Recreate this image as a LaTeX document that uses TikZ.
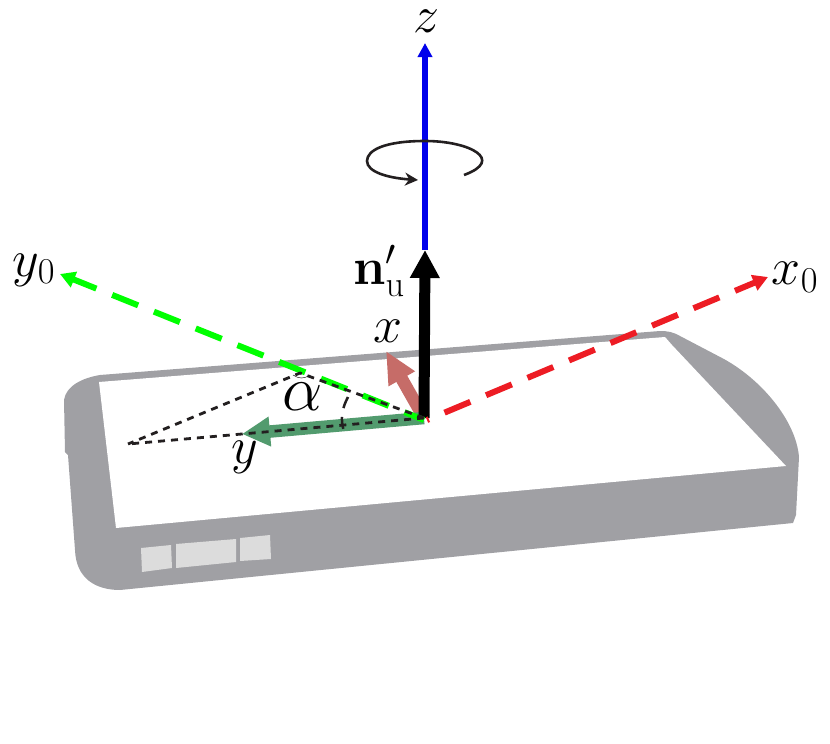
\documentclass[tikz,border=0pt]{standalone}
\usepackage{fix-cm}
\usepackage{amsmath}
\usetikzlibrary{arrows.meta}
\definecolor{phonegray}{RGB}{160,160,164}
\definecolor{keygray}{RGB}{220,220,220}
\definecolor{xsalmon}{RGB}{198,108,104}
\definecolor{ygreen}{RGB}{82,155,110}
\definecolor{xred}{RGB}{237,28,36}
\definecolor{zblue}{RGB}{0,0,235}
\definecolor{ink}{RGB}{35,31,32}

\begin{document}
\begin{tikzpicture}[x=1pt, y=-1pt]
    % ================= styles =================
    \tikzset{
        % axis labels
        axis_label/.style={inner sep=0pt, font=\fontsize{52}{56}\selectfont},
        % phone keys
        key_box/.style={fill=keygray, draw=none},
        % dashed reference axes
        ref_axis/.style={line width=6pt, dash pattern=on 28pt off 17pt},
        % dotted helper lines
        dot_line/.style={ink, line width=2.8pt, dash pattern=on 7pt off 6pt}
    }
    \useasboundingbox (0,0) rectangle (830,744);

    % ================= phone body =================
    \fill[phonegray] (100,375) .. controls (82,378) and (66,386) .. (64,400)
        -- (65,452) -- (68,455) -- (75,550)
        .. controls (76,578) and (95,590) .. (120,590)
        -- (793,523) -- (796,515) -- (799,457)
        .. controls (796,420) and (760,378) .. (722,358)
        -- (680,336) .. controls (673,332) and (668,331) .. (660,331) -- cycle;
    \fill[white] (99,382) -- (665,337) -- (672,345) -- (786,466) -- (116,528) -- cycle;

    % keys
    \fill[key_box] (141,548) -- (171,545) -- (172,568) -- (142,572) -- cycle;
    \fill[key_box] (176,544) -- (236,539) -- (236,562) -- (176,568) -- cycle;
    \fill[key_box] (240,538) -- (270,535) -- (271,559) -- (240,561) -- cycle;

    % ================= coordinates =================
    \coordinate (orig) at (424,418);
    \coordinate (xorig) at (427,420);
    \coordinate (yorig) at (424,420);
    \coordinate (ztip) at (425,43);
    \coordinate (ntip) at (425,250);
    \coordinate (xtip) at (386,351);
    \coordinate (ytip) at (242,434);
    \coordinate (xzero) at (768,277);
    \coordinate (yzero) at (60,274);
    \coordinate (apex) at (128,444);
    \coordinate (ridge) at (300,373);

    % ================= axes =================
    \draw[zblue, line width=5.5pt, -{Triangle[length=14pt, width=14pt]}] (ntip) -- (ztip);
    \draw[xsalmon, line width=12.5pt, -{Triangle[length=32pt, width=28pt]}] (orig) -- (xtip);
    \draw[ygreen, line width=12.5pt, -{Triangle[length=28pt, width=28pt]}] (orig) -- (ytip);
    \draw[black, line width=11pt, -{Triangle[length=28pt, width=28pt]}] (orig) -- (ntip);
    \draw[xred, ref_axis, dash phase=26pt, -{Triangle[length=15pt, width=16pt]}] (xorig) -- (xzero);
    \draw[green, ref_axis, dash phase=7pt, -{Triangle[length=15pt, width=16pt]}] (yorig) -- (yzero);

    % ================= helper lines =================
    \draw[dot_line] (orig) -- (apex);
    \draw[dot_line] (orig) -- (ridge) -- (apex);
    \coordinate (arcup) at (348,397);
    \coordinate (arcdown) at (344,431);
    \draw[ink, line width=2.5pt, dash pattern=on 12pt off 9pt] (arcup) .. controls (342,408) and (340,420) .. (arcdown);
    \coordinate (capleft) at (293,375);
    \coordinate (capright) at (310,375);
    \draw[ink, line width=0.5pt] (capleft) .. controls (299,379) and (304,379) .. (capright);

    % ================= rotation sign =================
    \coordinate (turnstart) at (464,175);
    \coordinate (turnend) at (418,180);
    \draw[ink, line width=2.6pt, -{Stealth[length=13pt, width=13pt]}] (turnstart)
        .. controls (505,160) and (470,141) .. (425,141)
        .. controls (385,141) and (367,150) .. (367,161)
        .. controls (367,172) and (388,178) .. (turnend);

    % ================= labels =================
    \node[axis_label] (zlabel) at (426,21) {$z$};
    \node[axis_label] (yzerolabel) at (34,270) {$y_0$};
    \node[axis_label] (xzerolabel) at (795,277) {$x_0$};
    \node[axis_label] (nlabel) at (379,271) {$\mathbf{n}'_{\mathrm{u}}$};
    \node[axis_label] (xlabel) at (388,331) {$x$};
    \node[axis_label] (ylabel) at (245,457) {$y$};
    \node[inner sep=0pt, font=\fontsize{64}{68}\selectfont] (alphalabel) at (303,397) {$\alpha$};
\end{tikzpicture}
\end{document}
